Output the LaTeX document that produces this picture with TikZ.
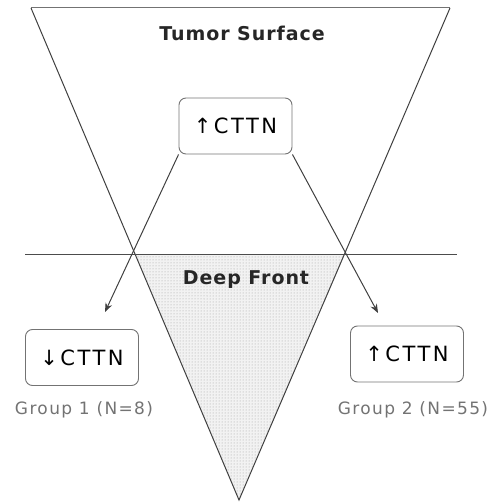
\documentclass[tikz,border=0pt]{standalone}
\usepackage{fontspec}
\setmainfont{DejaVu Sans}
\newfontfamily\headfont[LetterSpace=5]{DejaVu Sans}
\newfontfamily\cttnfont[LetterSpace=12]{DejaVu Sans}
\newfontfamily\grpfont[LetterSpace=8]{DejaVu Sans}
\usetikzlibrary{patterns,arrows.meta}
\tikzset{cttnbox/.style={draw=black!55, line width=0.9pt, rounded corners=7pt, minimum width=113pt, minimum height=56pt, font=\cttnfont\fontsize{21}{21}\selectfont},
  headlbl/.style={font=\headfont\bfseries\fontsize{19}{19}\selectfont, text=black!85},
  grplbl/.style={font=\grpfont\fontsize{17}{17}\selectfont, text=black!55}}
\begin{document}
\begin{tikzpicture}[>={Stealth[length=9pt,width=7pt]},x=1pt,y=-1pt]
\useasboundingbox (0,0) rectangle (491,503);
\coordinate (tl) at (31,8);
\coordinate (tr) at (450,8);
\coordinate (apex) at (239,500);
\coordinate (dl) at (135,254);
\coordinate (dr) at (344.5,254);
\coordinate (hl) at (25,254);
\coordinate (hr) at (457,254);
\fill[gray!10] (dl) -- (dr) -- (apex) -- cycle;
\fill[pattern=dots,pattern color=gray!75] (dl) -- (dr) -- (apex) -- cycle;
\draw[black!55,line width=1pt] (tl) -- (tr);
\draw[black!75,line width=1pt] (tl) -- (apex) -- (tr);
\draw[black!70,line width=1pt] (hl) -- (hr);
\node[headlbl] (surf) at (242,33) {Tumor Surface};
\node[headlbl] (deep) at (246,280) {Deep Front};
\node[cttnbox] (top) at (235.5,126) {↑CTTN};
\node[cttnbox] (low) at (82,357.5) {↓CTTN};
\node[cttnbox] (high) at (407,354) {↑CTTN};
\node[grplbl] (g1) at (84,410) {Group 1 (N=8)};
\node[grplbl] (g2) at (413,410) {Group 2 (N=55)};
\coordinate (lt) at (105,312);
\coordinate (rt) at (378,313);
\draw[->,black!75,line width=1pt] (top.south west) -- (lt);
\draw[->,black!75,line width=1pt] (top.south east) -- (rt);
\end{tikzpicture}
\end{document}
